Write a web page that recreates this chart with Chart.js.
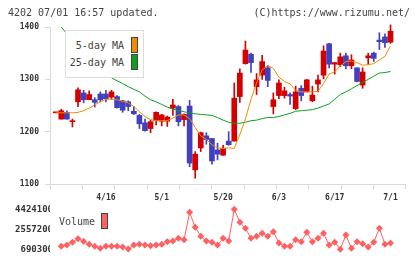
<!DOCTYPE html>
<html>
<head>
<meta charset="utf-8">
<script src="https://cdn.jsdelivr.net/npm/chart.js@4.4.1/dist/chart.umd.min.js"></script>
<style>
  body { margin: 0; background: #fff; }
  #wrap { position: relative; width: 420px; height: 259px; overflow: hidden;
          font-family: "DejaVu Sans Mono", monospace; font-size: 10px; color: #444; }
  canvas { position: absolute; left: 0; }
  #price { top: 0; }
  #volume { top: 200px; }
  .txt { position: absolute; line-height: 12px; white-space: nowrap; }
  .swatch { position: absolute; box-sizing: border-box; border: 1px solid #444; }
</style>
</head>
<body>
<div id="wrap">
  <canvas id="price" width="420" height="206"></canvas>
  <canvas id="volume" width="420" height="59"></canvas>

  <div class="txt" style="left:8px;top:7px">4202 07/01 16:57 updated.</div>
  <div class="txt" style="right:10px;top:7px">(C)https://www.rizumu.net/</div>

  <!-- legende des moyennes mobiles -->
  <div style="position:absolute;left:65px;top:30px;width:79px;height:48px;box-sizing:border-box;border:1px solid #ddd;background:#fff"></div>
  <div class="txt" style="right:296px;top:40px">5-day MA</div>
  <div class="txt" style="right:296px;top:57px">25-day MA</div>
  <div class="swatch" style="left:131px;top:37px;width:7px;height:16px;background:#f08c00"></div>
  <div class="swatch" style="left:131px;top:54px;width:7px;height:16px;background:#10a020"></div>

  <div class="txt" style="left:59px;top:216px">Volume</div>
  <div class="swatch" style="left:101px;top:213px;width:7px;height:16px;background:#ff6060"></div>
</div>

<script>
// Données
const dates = ['4/3','4/4','4/5','4/8','4/9','4/10','4/11','4/12','4/15','4/16','4/17','4/18','4/19','4/22','4/23','4/24','4/25','4/26','4/30',
  '5/1','5/2','5/7','5/8','5/9','5/10','5/13','5/14','5/15','5/16','5/17','5/20','5/21','5/22','5/23','5/24','5/27','5/28','5/29','5/30','5/31',
  '6/3','6/4','6/5','6/6','6/7','6/10','6/11','6/12','6/13','6/14','6/17','6/18','6/19','6/20','6/21','6/24','6/25','6/26','6/27','6/28',
  '7/1'];
const tickDates = ['4/16', '5/1', '5/20', '6/3', '6/17', '7/1'];

const open = [1236,1224,1237,1219,1257,1274,1261,1261,1272,1272,1266,1267,1259,1257,1239,1231,1217,1206,1221,1220,1220,1245,1248,1223,1249,1127,1169,1192,1187,1165,1155,1182,1182,1267,1330,1348,1286,1308,1322,1248,1269,1269,1271,1244,1283,1276,1259,1291,1308,1368,1329,1328,1345,1326,1322,1289,1341,1350,1375,1381,1371];
const high = [1236,1243,1240,1224,1284,1279,1278,1265,1276,1279,1279,1269,1260,1259,1248,1233,1224,1222,1238,1233,1230,1262,1250,1234,1260,1162,1199,1198,1187,1178,1174,1200,1293,1320,1373,1350,1311,1346,1326,1274,1299,1285,1274,1287,1288,1300,1287,1308,1364,1369,1332,1350,1350,1347,1322,1322,1350,1352,1389,1387,1404];
const low = [1236,1224,1224,1209,1248,1255,1261,1247,1257,1257,1262,1245,1237,1240,1233,1206,1201,1198,1213,1211,1210,1231,1211,1211,1133,1111,1162,1176,1138,1146,1155,1174,1182,1256,1329,1313,1271,1300,1286,1234,1263,1264,1252,1242,1259,1276,1257,1276,1301,1322,1310,1324,1320,1320,1295,1283,1329,1334,1357,1361,1369];
const close = [1236,1240,1224,1220,1280,1261,1271,1256,1261,1263,1276,1246,1241,1248,1234,1215,1202,1219,1237,1232,1228,1251,1219,1233,1140,1157,1198,1185,1144,1157,1168,1175,1264,1312,1356,1332,1299,1334,1298,1261,1293,1278,1268,1276,1269,1299,1270,1299,1354,1329,1332,1343,1326,1337,1296,1314,1345,1340,1372,1370,1392];

const ma5 = [1236,1236,1236,1236,1237,1240,1245,1251,1257,1262,1262,1261,1258,1255,1248,1238,1229,1223,1221,1221,1221,1226,1232,1232,1225,1208,1192,1185,1175,1169,1168,1169,1168,1195,1224,1262,1293,1318,1326,1321,1304,1296,1291,1279,1276,1276,1276,1277,1292,1310,1314,1326,1334,1335,1332,1327,1328,1330,1337,1344,1364];
const ma25 = [null,1400,1387,1375,1363,1352,1341,1331,1321,1312,1303,1297,1292,1286,1281,1276,1268,1261,1257,1252,1247,1243,1241,1238,1236,1234,1233,1232,1231,1227,1222,1218,1216,1216,1218,1221,1222,1225,1227,1227,1229,1232,1235,1239,1240,1241,1242,1245,1249,1253,1262,1271,1276,1282,1288,1294,1300,1306,1312,1313,1315];

const volume = [null,970300,1091700,1343700,1679800,1437100,1157000,970300,783600,970300,970300,970300,905000,718300,1091700,1157000,1091700,1026300,1091700,1157000,1399700,1465100,1717100,1586400,4144100,2743900,1903800,1465100,1343700,1091700,1717100,1465100,4424100,3210600,2650500,1717100,1903800,2183800,1903800,2333200,1278400,970300,970300,1586400,1399700,2277200,1399700,1717100,2183800,1091700,1343700,690300,2025100,783600,1399700,1213000,905000,1343700,2650500,1157000,1278400];

const priceTicks = [1100, 1200, 1300, 1400];
const volumeTicks = [690300, 2557200, 4424100];

const UP = '#d40000';
const DOWN = '#4040c0';
const ORANGE = '#f08c00';
const GREEN = '#10a020';
const VOL = '#ff6060';
const AXIS = '#d9d9d9';
const FONT = '"DejaVu Sans Mono", monospace';

// bornes de l'axe des x (en indices de séance)
const xMin = -1.02;
const xMax = 62.72;

const idx = dates.map((d, i) => i);
const candleColor = ctx => close[ctx.dataIndex] >= open[ctx.dataIndex] ? UP : DOWN;

new Chart(document.getElementById('price'), {
    type: 'bar',
    data: {
        datasets: [{
            type: 'line',
            data: idx.map(i => ({ x: i, y: ma5[i] })),
            borderColor: ORANGE,
            borderWidth: 1,
            pointRadius: 0,
            order: 0
        }, {
            type: 'line',
            data: idx.map(i => ({ x: i, y: ma25[i] })),
            borderColor: GREEN,
            borderWidth: 1,
            pointRadius: 0,
            order: 0
        }, {
            // corps des bougies
            data: idx.map(i => ({ x: i, y: [open[i], close[i]] })),
            backgroundColor: candleColor,
            barThickness: 5,
            minBarLength: 1,
            grouped: false,
            clip: false,
            order: 1
        }, {
            // mèches
            data: idx.map(i => ({ x: i, y: [low[i], high[i]] })),
            backgroundColor: candleColor,
            barThickness: 1,
            grouped: false,
            clip: false,
            order: 2
        }]
    },
    options: {
        responsive: false,
        animation: false,
        devicePixelRatio: 1,
        layout: { padding: { top: 27, right: 14.3, left: 0, bottom: 0 } },
        plugins: { legend: { display: false }, tooltip: { enabled: false } },
        scales: {
            x: {
                type: 'linear', position: 'bottom', min: xMin, max: xMax, offset: false, weight: 0,
                grid: { offset: false, drawOnChartArea: false, color: AXIS, tickLength: 5 },
                border: { color: AXIS },
                ticks: { display: false },
                afterBuildTicks: s => {
                    s.ticks = Array.from({ length: 12 }, (_, i) => ({ value: xMin + i * (xMax - xMin) / 11 }));
                },
                afterFit: s => { s.height = 5; }
            },
            xd: {
                type: 'linear', position: 'bottom', axis: 'x', min: xMin, max: xMax, offset: false, weight: 1,
                grid: { display: false, drawTicks: false, offset: false },
                border: { display: false },
                ticks: {
                    autoSkip: false, maxRotation: 0, padding: 4, color: '#333',
                    font: { family: FONT, size: 8, weight: 'bold' },
                    callback: v => dates[v]
                },
                afterBuildTicks: s => {
                    s.ticks = tickDates.map(d => ({ value: dates.indexOf(d) }));
                },
                afterFit: s => { s.height = 17; }
            },
            y: {
                min: 1100, max: 1400,
                grid: { drawOnChartArea: false, color: AXIS, tickLength: 5 },
                border: { color: AXIS },
                ticks: {
                    padding: 6, color: '#333',
                    font: { family: FONT, size: 8, weight: 'bold' },
                    callback: v => String(v)
                },
                afterBuildTicks: s => { s.ticks = priceTicks.map(v => ({ value: v })); },
                afterFit: s => { s.width = 50; }
            }
        }
    }
});

new Chart(document.getElementById('volume'), {
    type: 'line',
    data: {
        datasets: [{
            data: idx.map(i => ({ x: i, y: volume[i] })),
            borderColor: VOL,
            backgroundColor: VOL,
            borderWidth: 1,
            pointStyle: 'rectRot',
            pointRadius: 3.5,
            pointBorderWidth: 0,
            clip: false
        }]
    },
    options: {
        responsive: false,
        animation: false,
        devicePixelRatio: 1,
        layout: { padding: { top: 9.3, bottom: 9.7, right: 14.3, left: 0 } },
        plugins: { legend: { display: false }, tooltip: { enabled: false } },
        scales: {
            x: { type: 'linear', min: xMin, max: xMax, display: false },
            y: {
                min: volumeTicks[0], max: volumeTicks[2],
                grid: { display: false, drawTicks: false },
                border: { display: false },
                ticks: {
                    padding: -3, color: '#333',
                    font: { family: FONT, size: 9, weight: 'bold' },
                    callback: v => String(v)
                },
                afterBuildTicks: s => { s.ticks = volumeTicks.map(v => ({ value: v })); },
                afterFit: s => { s.width = 50; }
            }
        }
    }
});
</script>
</body>
</html>
